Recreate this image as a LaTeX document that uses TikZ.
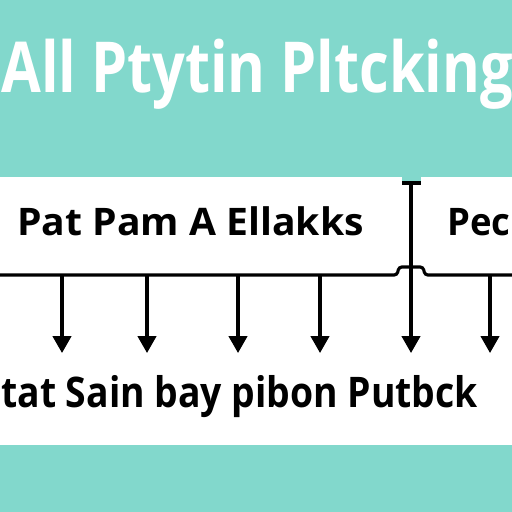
\documentclass[tikz,border=0pt]{standalone}
\usepackage{fontspec}
\setmainfont{Open Sans}
\usetikzlibrary{arrows.meta}
\definecolor{bgteal}{RGB}{130,216,204}

\begin{document}
\begin{tikzpicture}[x=0.025cm,y=-0.025cm,
    rule/.style={line width=2.2pt,black},
    down/.style={line width=2.2pt,-{Triangle[length=12pt,width=13pt]}},
    boxtext/.style={font=\bfseries\fontsize{27}{30}\selectfont,inner sep=0pt,anchor=base west},
    bottomtext/.style={font=\bfseries\fontsize{30}{33}\selectfont,inner sep=0pt,anchor=base west}]
  \useasboundingbox (0,0) rectangle (512,512);
  % background and panel
  \fill[bgteal] (0,0) rectangle (512,512);
  \fill[white] (0,177) rectangle (512,445);
  \fill[bgteal] (402,177) rectangle (421,183);
  % title
  \node[white,font=\bfseries\fontsize{50}{54}\selectfont,inner sep=0pt,anchor=base west]
    (title) at (1,92) {\scalebox{0.82}[1]{All Ptytin Pltcking}};
  % upper row
  \node[boxtext] (left) at (17,235) {\scalebox{1.03}[1]{Pat Pam A Ellakks}};
  \node[boxtext] (right) at (447,235) {\scalebox{0.96}[1]{Pec}};
  % rule with hop
  \draw[rule,rounded corners=2pt] (0,275) -- (397,275) -- (399,267) -- (423,267) -- (425,275) -- (512,275);
  \draw[rule] (402,183) -- (421,183);
  \coordinate (top) at (411,183);
  % arrows
  \foreach \x [count=\i] in {62,147,238,320,490} {
    \coordinate (s\i) at (\x,275);
    \coordinate (e\i) at (\x,353);
    \draw[down] (s\i) -- (e\i);
  }
  \coordinate (e6) at (411,353);
  \draw[down] (top) -- (e6);
  % lower row
  \node[bottomtext] (bottom) at (1,407) {\scalebox{0.885}[1]{tat Sain bay pibon Putbck}};
\end{tikzpicture}
\end{document}
